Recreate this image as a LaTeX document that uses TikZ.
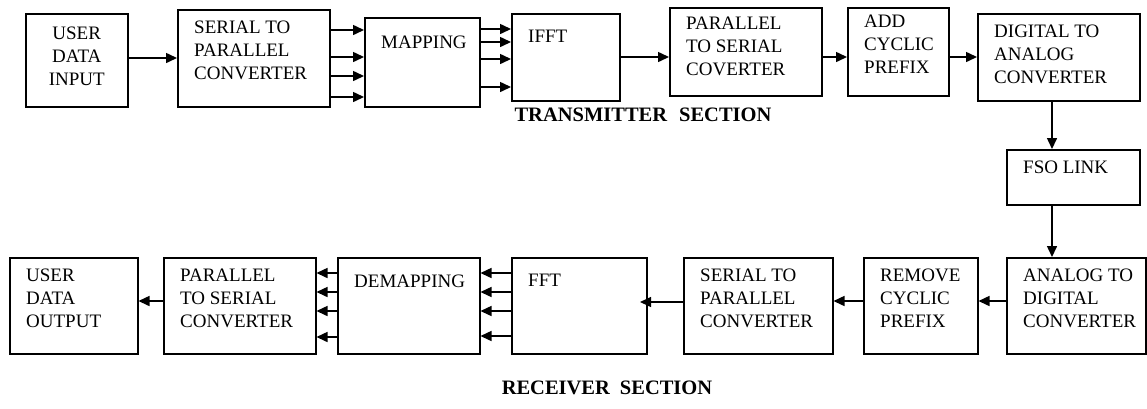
\documentclass[tikz,border=0pt]{standalone}
\usepackage{fontspec}
\setmainfont{Liberation Serif}
\usetikzlibrary{arrows.meta, positioning}

\begin{document}
\begin{tikzpicture}[
    x=1pt, y=-1pt,
    every node/.style={font=\fontsize{19}{23}\selectfont},
    blk/.style={draw, line width=1.5pt, anchor=north west, inner sep=0pt},
    txt/.style={anchor=north west, align=left, inner sep=0pt, xshift=17pt, yshift=-12pt},
    ctxt/.style={anchor=north, align=center, inner sep=0pt, yshift=-14pt},
    sect/.style={font=\fontsize{20.5}{24}\selectfont\bfseries},
    arr/.style={line width=1.5pt, -{Triangle[length=11pt,width=10pt]}}
  ]
  \useasboundingbox (0,0) rectangle (1147,408);

  % Transmitter blocks
  \node[blk, minimum width=102pt, minimum height=93pt, label={[ctxt]north:{USER\\DATA\\INPUT}}] (udi) at (25,13) {};
  \node[blk, minimum width=152pt, minimum height=97pt, label={[txt]north west:{SERIAL TO\\PARALLEL\\CONVERTER}}] (stp) at (177,9) {};
  \node[blk, minimum width=115pt, minimum height=89pt, label={[txt, yshift=-7pt]north west:{MAPPING}}] (map) at (364,17) {};
  \node[blk, minimum width=108pt, minimum height=87pt, label={[txt, yshift=-5pt]north west:{IFFT}}] (ifft) at (511,13) {};
  \node[blk, minimum width=152pt, minimum height=88pt, label={[txt, yshift=2pt]north west:{PARALLEL\\TO SERIAL\\COVERTER}}] (pts) at (669,7) {};
  \node[blk, minimum width=101pt, minimum height=88pt, label={[txt, yshift=4pt]north west:{ADD\\CYCLIC\\PREFIX}}] (acp) at (847,7) {};
  \node[blk, minimum width=162pt, minimum height=87pt, label={[txt]north west:{DIGITAL TO\\ANALOG\\CONVERTER}}] (dac) at (977,13) {};
  \node[sect] (tx) at (643,115) {TRANSMITTER\hspace{12pt}SECTION};

  % Link
  \node[blk, minimum width=133pt, minimum height=55pt, label={[txt]north west:{FSO LINK}}] (fso) at (1006,149) {};

  % Receiver blocks
  \node[blk, minimum width=139pt, minimum height=96pt, label={[txt]north west:{ANALOG TO\\DIGITAL\\CONVERTER}}] (adc) at (1006,257) {};
  \node[blk, minimum width=114pt, minimum height=96pt, label={[txt]north west:{REMOVE\\CYCLIC\\PREFIX}}] (rcp) at (863,257) {};
  \node[blk, minimum width=149pt, minimum height=96pt, label={[txt]north west:{SERIAL TO\\PARALLEL\\CONVERTER}}] (rstp) at (683,257) {};
  \node[blk, minimum width=135pt, minimum height=96pt, label={[txt, yshift=-5pt]north west:{FFT}}] (fft) at (511,257) {};
  \node[blk, minimum width=142pt, minimum height=96pt, label={[txt, yshift=-6pt]north west:{DEMAPPING}}] (dmap) at (337,257) {};
  \node[blk, minimum width=152pt, minimum height=96pt, label={[txt]north west:{PARALLEL\\TO SERIAL\\CONVERTER}}] (rpts) at (163,257) {};
  \node[blk, minimum width=128pt, minimum height=96pt, label={[txt]north west:{USER\\DATA\\OUTPUT}}] (udo) at (9,257) {};
  \node[sect] (rx) at (607,388) {RECEIVER\hspace{10pt}SECTION};

  % Transmitter arrows
  \draw[arr] (udi.east |- 0,58) -- (stp.west |- 0,58);
  \foreach \yy in {30,57,76,97}
    \draw[arr] (stp.east |- 0,\yy) -- (map.west |- 0,\yy);
  \foreach \yy in {29,42,59,87}
    \draw[arr] (map.east |- 0,\yy) -- (ifft.west |- 0,\yy);
  \draw[arr] (ifft.east |- 0,57) -- (pts.west |- 0,57);
  \draw[arr] (pts.east |- 0,57) -- (acp.west |- 0,57);
  \draw[arr] (acp.east |- 0,57) -- (dac.west |- 0,57);

  % Down through the link
  \draw[arr] (dac.south -| 1052,0) -- (fso.north -| 1052,0);
  \draw[arr] (fso.south -| 1052,0) -- (adc.north -| 1052,0);

  % Receiver arrows
  \coordinate (fftin) at (640,302);
  \draw[arr] (adc.west |- 0,301) -- (rcp.east |- 0,301);
  \draw[arr] (rcp.west |- 0,301) -- (rstp.east |- 0,301);
  \draw[arr] (rstp.west |- fftin) -- (fftin);
  \foreach \yy in {273,292,311,336}
    \draw[arr] (fft.west |- 0,\yy) -- (dmap.east |- 0,\yy);
  \foreach \yy in {273,292,311,337}
    \draw[arr] (dmap.west |- 0,\yy) -- (rpts.east |- 0,\yy);
  \draw[arr] (rpts.west |- 0,301) -- (udo.east |- 0,301);
\end{tikzpicture}
\end{document}
